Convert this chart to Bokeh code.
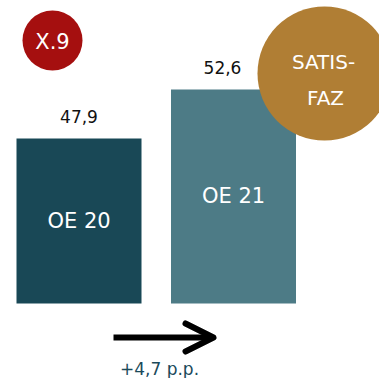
from bokeh.plotting import figure
from bokeh.models import Range1d, Arrow, OpenHead, ColumnDataSource
from bokeh.core.properties import value
from bokeh.embed import file_html
from bokeh.resources import INLINE

# ---- data ----
categories = ["OE 20", "OE 21"]
values = [47.9, 52.6]
badge_left = "X.9"
badge_right = ["SATIS-", "FAZ"]
delta_unit = "p.p."

bar_colors = ["#194856", "#4d7b86"]
FONT = "DejaVu Sans"

W, H = 379, 378
# pixel <-> data mapping (layout only)
X0_PX, X_STEP_PX = 78.5, 154.5
BASE = 32.07
Y_BASE_PX, Y_SCALE = 303.0, 10.426


def dx(px):
    return (px - X0_PX) / X_STEP_PX


def dy(py):
    return BASE + (Y_BASE_PX - py) / Y_SCALE


def fmt(v):
    return f"{v:.1f}".replace(".", ",")


p = figure(width=W, height=H, output_backend="svg", toolbar_location=None,
           x_range=Range1d(dx(0), dx(W)), y_range=Range1d(dy(H), dy(0)),
           min_border=0, border_fill_color="white", background_fill_color="white")
p.axis.visible = False
p.grid.visible = False
p.outline_line_color = None

idx = list(range(len(categories)))
src = ColumnDataSource(dict(
    x=idx, top=values, color=bar_colors, cat=categories,
    mid=[(BASE + v) / 2 for v in values],
    lab=[fmt(v) for v in values],
    xoff=[0, -11],
))

p.vbar(x="x", top="top", bottom=BASE, width=125 / X_STEP_PX, fill_color="color",
       line_color=None, source=src)

p.text(x="x", y="mid", text="cat", source=src, text_color="white",
       text_font=value(FONT), text_font_size="21px", text_align="center",
       text_baseline="middle")

p.text(x="x", y="top", text="lab", source=src, x_offset="xoff", y_offset=-22,
       text_color="#111111", text_font=value(FONT), text_font_size="17px",
       text_align="center", text_baseline="middle")

# badges
p.scatter(x=[dx(52)], y=[dy(40)], size=60, marker="circle",
          fill_color="#a50f0f", line_color=None)
p.text(x=[dx(52)], y=[dy(41)], text=[badge_left], text_color="white",
       text_font=value(FONT), text_font_size="21px", text_align="center",
       text_baseline="middle")

p.scatter(x=[dx(324)], y=[dy(73)], size=134, marker="circle",
          fill_color="#b07e34", line_color=None)
p.text(x=[dx(323), dx(325)], y=[dy(61), dy(97)], text=badge_right,
       text_color="white", text_font=value(FONT), text_font_size="20px",
       text_align="center", text_baseline="middle")

# arrow + delta
delta = values[1] - values[0]
p.add_layout(Arrow(x_start=dx(113), y_start=dy(337), x_end=dx(213), y_end=dy(337),
                   line_width=6, line_color="black",
                   end=OpenHead(size=28, line_width=6, line_color="black",
                                line_join="round", line_cap="round")))
p.text(x=[dx(159)], y=[dy(368)], text=[f"+{fmt(delta)} {delta_unit}"],
       text_color="#1b4a5a", text_font=value(FONT), text_font_size="17px",
       text_align="center", text_baseline="middle")

open("out.html", "w").write(file_html(p, INLINE))
